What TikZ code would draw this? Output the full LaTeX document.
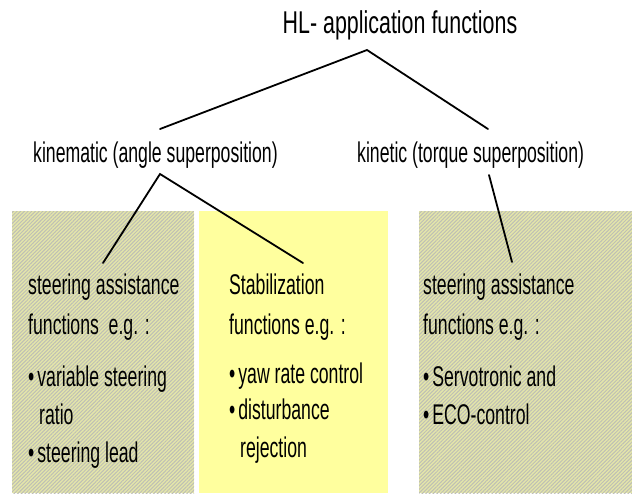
\documentclass[tikz,border=0pt]{standalone}
\usepackage{fontspec}
\usetikzlibrary{patterns.meta}
\newfontfamily\nf{Liberation Sans}[FakeStretch=0.62]
\newfontfamily\tf{Liberation Sans}[FakeStretch=0.68]
\definecolor{greenbase}{RGB}{228,230,170}
\definecolor{greenstripe}{RGB}{190,191,180}
\definecolor{paleyellow}{RGB}{255,255,158}
\tikzset{
  txt/.style={anchor=base west, inner sep=0pt, font=\nf\fontsize{28.5}{32}\selectfont},
  ttl/.style={anchor=base, inner sep=0pt, font=\tf\fontsize{31.5}{36}\selectfont},
  conn/.style={line width=1.8pt, line cap=round, line join=miter},
  hatchbox/.style={fill=greenbase, postaction={pattern={Lines[angle=45,distance=2.6pt,line width=1pt]}, pattern color=greenstripe}},
  yellowbox/.style={fill=paleyellow}
}
\begin{document}
\begin{tikzpicture}[x=1pt,y=-1pt]
\useasboundingbox (0,0) rectangle (632,493);
% boxes
\path[hatchbox] (12,211) rectangle (194,493);
\path[yellowbox] (199,211) rectangle (388,493);
\path[hatchbox] (419,211) rectangle (632,493);
% titles
\node[ttl] (title) at (400,33) {HL- application functions};
\node[txt] (kin) at (33,162) {kinematic (angle superposition)};
\node[txt] (ket) at (357,162) {kinetic (torque superposition)};
% left box
\node[txt] (l1) at (28,294) {steering assistance};
\node[txt] (l2) at (28,334) {functions\ \ e.g. :};
\node[txt] (l3) at (28,386) {\textbullet\hspace{3pt}variable steering};
\node[txt] (l4) at (39,424) {ratio};
\node[txt] (l5) at (28,462) {\textbullet\hspace{3pt}steering lead};
% middle box
\node[txt] (m1) at (229,294) {Stabilization};
\node[txt] (m2) at (229,334) {functions e.g. :};
\node[txt] (m3) at (229,383) {\textbullet\hspace{3pt}yaw rate control};
\node[txt] (m4) at (229,419) {\textbullet\hspace{3pt}disturbance};
\node[txt] (m5) at (240,457) {rejection};
% right box
\node[txt] (r1) at (423,294) {steering assistance};
\node[txt] (r2) at (423,334) {functions e.g. :};
\node[txt] (r3) at (423,386) {\textbullet\hspace{3pt}Servotronic and};
\node[txt] (r4) at (423,424) {\textbullet\hspace{3pt}ECO-control};
% connector end points
\coordinate (apex) at (367,50);
\coordinate (kinTop) at (160,129);
\coordinate (ketTop) at (488,129);
\coordinate (kinBot) at (160,174);
\coordinate (leftEnd) at (103,263);
\coordinate (midEnd) at (303,263);
\coordinate (ketBot) at (489,175);
\coordinate (rightEnd) at (512,262);
% connectors
\draw[conn] (kinTop) -- (apex) -- (ketTop);
\draw[conn] (leftEnd) -- (kinBot) -- (midEnd);
\draw[conn] (ketBot) -- (rightEnd);
\end{tikzpicture}
\end{document}
